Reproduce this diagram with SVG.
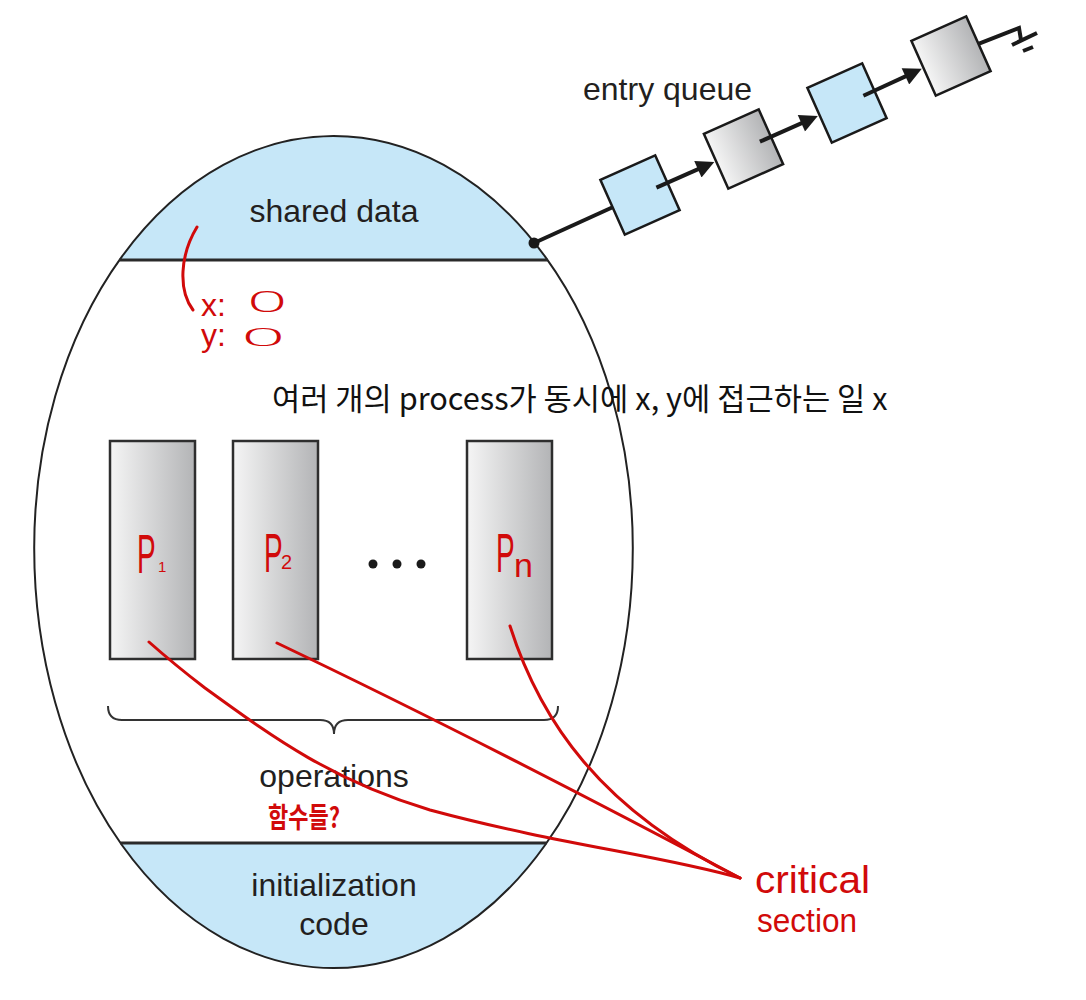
<svg xmlns="http://www.w3.org/2000/svg" width="1086" height="1000" viewBox="0 0 1086 1000">
<style>
  .lbl { font-family: "Liberation Sans", Arial, sans-serif; font-size: 32px; fill: #231f20; }
  .ko { font-family: "Noto Sans CJK KR", "Liberation Sans", sans-serif; fill: #111; }
  .hand { font-family: "Liberation Sans", Arial, sans-serif; fill: #d10a0a; }
  .thin { font-family: "DejaVu Sans", sans-serif; font-weight: 200; fill: #d10a0a; }
  .handko { font-family: "Noto Sans CJK KR", sans-serif; fill: #d10a0a; font-weight: 700; }
  .red { fill: none; stroke: #d10a0a; stroke-width: 3; stroke-linecap: round; stroke-linejoin: round; }
  .qline { stroke: #1a1a1a; stroke-width: 4; fill: none; }
  .qbox { stroke: #1a1a1a; stroke-width: 2.5; }
  .blue { fill: #c6e7f8; }
  .pbox { fill: url(#gray); stroke: #2e2e2e; stroke-width: 2.5; }
</style>
<defs>
  <linearGradient id="gray" x1="0" y1="0" x2="1" y2="0">
    <stop offset="0" stop-color="#f5f5f5"/>
    <stop offset="1" stop-color="#b3b4b6"/>
  </linearGradient>
  <marker id="arr" viewBox="0 0 10 10" refX="5" refY="5" markerWidth="5.5" markerHeight="4.5" orient="auto" markerUnits="strokeWidth">
    <path d="M0,0 L10,5 L0,10 Z" fill="#1a1a1a"/>
  </marker>
</defs>
<rect width="1086" height="1000" fill="#fff"/>

<g id="monitor">
  <path id="shared-data-area" class="blue" d="M119.5,260 A299.3,412 0 0 1 547.5,260 Z"/>
  <path id="init-area" class="blue" d="M120.4,843 A299.3,420 0 0 0 546.6,843 Z"/>
  <path d="M34.2,548 A299.3,412 0 0 1 632.8,548 A299.3,420 0 0 1 34.2,548 Z" fill="none" stroke="#222" stroke-width="2"/>
  <line x1="119.5" y1="260" x2="547.5" y2="260" stroke="#2a2a2a" stroke-width="3"/>
  <line x1="120.4" y1="843" x2="546.6" y2="843" stroke="#2a2a2a" stroke-width="3"/>
</g>

<g id="shared-data"><text class="lbl" x="334" y="222" text-anchor="middle">shared data</text></g>
<g id="operations">
  <path d="M108,706 Q108,720 122,720 L320,720 Q334,720 334,734 Q334,720 348,720 L544,720 Q558,720 558,706" fill="none" stroke="#333" stroke-width="2"/>
  <text class="lbl" x="334" y="787" text-anchor="middle">operations</text>
</g>
<g id="init-code">
  <text class="lbl" x="334" y="896" text-anchor="middle">initialization</text>
  <text class="lbl" x="334" y="935" text-anchor="middle">code</text>
</g>

<g id="p1"><rect class="pbox" x="110" y="441" width="85" height="218"/></g>
<g id="p2"><rect class="pbox" x="233" y="441" width="85" height="218"/></g>
<g id="pn"><rect class="pbox" x="467" y="441" width="85" height="218"/></g>
<g id="ellipsis" fill="#1a1a1a">
  <circle cx="373" cy="564" r="4.5"/><circle cx="397" cy="564" r="4.5"/><circle cx="421" cy="564" r="4.5"/>
</g>

<text class="ko" x="272" y="410" font-size="30.7">여러 개의 process가 동시에 x, y에 접근하는 일 x</text>

<g id="entry-queue">
  <text class="lbl" x="583" y="100">entry queue</text>
  <g id="q1"><rect class="qbox blue" x="-30" y="-30" width="60" height="60" transform="translate(640,195) rotate(-24)"/></g>
  <g id="q2"><rect class="qbox" fill="url(#gray)" x="-30" y="-30" width="60" height="60" transform="translate(743.5,149) rotate(-24)"/></g>
  <g id="q3"><rect class="qbox blue" x="-30" y="-30" width="60" height="60" transform="translate(847,103) rotate(-24)"/></g>
  <g id="q4"><rect class="qbox" fill="url(#gray)" x="-30" y="-30" width="60" height="60" transform="translate(951,56) rotate(-24)"/></g>
</g>

<g id="connectors">
  <circle cx="534" cy="243" r="5.5" fill="#1a1a1a"/>
  <line class="qline" x1="534" y1="243" x2="612.6" y2="207.2"/>
  <line class="qline" x1="656.4" y1="187.7" x2="706.1" y2="165.6" marker-end="url(#arr)"/>
  <line class="qline" x1="759.9" y1="141.7" x2="809.6" y2="119.6" marker-end="url(#arr)"/>
  <line class="qline" x1="863.4" y1="95.7" x2="913.6" y2="72.6" marker-end="url(#arr)"/>
  <polyline class="qline" points="978.4,43.8 1019,28 1021,40"/>
  <line class="qline" x1="1012" y1="45" x2="1037" y2="33"/>
  <line class="qline" x1="1023" y1="51" x2="1033" y2="47"/>
</g>

<g id="annotations">
  <path class="red" d="M197,227 C180,255 178,290 193,310"/>
  <text class="hand" x="201" y="316" font-size="32">x:</text>
  <text class="thin" font-size="26" transform="translate(245,312) scale(2.7,1.1)">0</text>
  <text class="hand" x="201" y="346" font-size="32">y:</text>
  <text class="thin" font-size="24" transform="translate(239,346) scale(3.2,1)">0</text>

  <text class="hand" font-size="56" transform="translate(137,573) scale(0.5,1)">P</text>
  <text class="hand" x="158" y="572" font-size="15">1</text>
  <text class="hand" font-size="56" transform="translate(264,572) scale(0.5,1)">P</text>
  <text class="hand" x="281" y="569" font-size="20">2</text>
  <text class="hand" font-size="56" transform="translate(496,572) scale(0.5,1)">P</text>
  <text class="hand" x="514" y="577" font-size="34">n</text>

  <text class="handko" x="268" y="828" font-size="28" textLength="72" lengthAdjust="spacingAndGlyphs">함수들?</text>

  <path class="red" d="M149,642 Q175,665 205,688 C270,735 330,780 430,810 C560,845 660,855 740,878"/>
  <path class="red" d="M277,643 Q480,740 740,878"/>
  <path class="red" d="M510,626 C540,720 600,810 740,878"/>

  <text class="hand" x="755" y="893" font-size="38" textLength="115" lengthAdjust="spacingAndGlyphs">critical</text>
  <text class="hand" x="757" y="932" font-size="34" textLength="100" lengthAdjust="spacingAndGlyphs">section</text>
</g>
</svg>
